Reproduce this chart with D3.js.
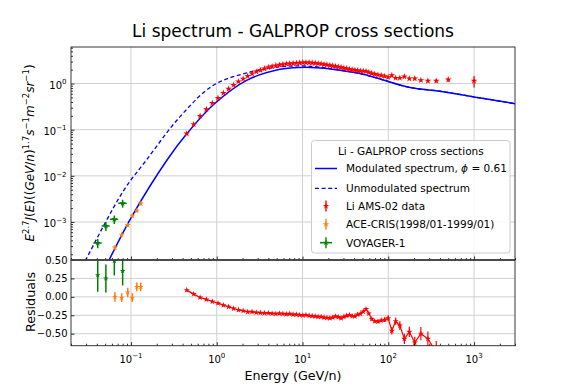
<!DOCTYPE html>
<html>
<head>
<meta charset="utf-8">
<script src="https://cdn.jsdelivr.net/npm/d3@7"></script>
<style>
  body { margin: 0; background: #fff; }
  svg { font-family: "DejaVu Sans", sans-serif; }
</style>
</head>
<body>
<div id="chart"></div>
<script>
// ---- data ----
// AMS-02 Li (GeV/n)
const amsE = [0.447, 0.538, 0.640, 0.757, 0.888, 1.034, 1.196, 1.375, 1.573, 1.792,
  2.033, 2.295, 2.581, 2.893, 3.230, 3.596, 3.993, 4.420, 4.888, 5.383,
  5.902, 6.472, 7.091, 7.762, 8.482, 9.253, 10.08, 10.97, 11.94, 12.97,
  14.06, 15.23, 16.48, 17.83, 19.28, 20.82, 22.47, 24.24, 26.14, 28.17,
  30.34, 32.68, 35.21, 37.90, 40.80, 43.92, 47.30, 51.04, 55.04, 59.29,
  64.03, 69.51, 75.75, 82.74, 90.72, 99.7, 109.9, 121.9, 136.3, 154.0,
  175.9, 203.5, 239.7, 289.6, 362.6, 500, 1000];
const amsFlux = [0.082, 0.130, 0.198, 0.276, 0.379, 0.486, 0.625, 0.764, 0.93, 1.11,
  1.26, 1.45, 1.64, 1.81, 1.96, 2.11, 2.24, 2.35, 2.45, 2.53,
  2.60, 2.66, 2.71, 2.75, 2.79, 2.82, 2.84, 2.85, 2.84, 2.81,
  2.77, 2.72, 2.66, 2.60, 2.54, 2.48, 2.42, 2.36, 2.30, 2.24,
  2.17, 2.11, 2.05, 2.00, 1.95, 1.91, 1.88, 1.87, 1.85, 1.74,
  1.66, 1.60, 1.55, 1.50, 1.44, 1.37, 1.51, 1.32, 1.32, 1.42,
  1.28, 1.28, 1.18, 1.14, 1.14, 1.22, 1.14];
const amsRelErr = [0.04, 0.035, 0.03, 0.03, 0.03, 0.03, 0.03, 0.03, 0.03, 0.03,
  0.025, 0.025, 0.025, 0.025, 0.025, 0.025, 0.025, 0.025, 0.025, 0.025,
  0.02, 0.02, 0.02, 0.02, 0.02, 0.02, 0.02, 0.02, 0.02, 0.02,
  0.02, 0.02, 0.02, 0.02, 0.02, 0.02, 0.02, 0.02, 0.02, 0.02,
  0.025, 0.025, 0.025, 0.025, 0.025, 0.025, 0.025, 0.025, 0.025, 0.025,
  0.03, 0.03, 0.03, 0.03, 0.035, 0.035, 0.04, 0.04, 0.045, 0.05,
  0.055, 0.06, 0.065, 0.07, 0.08, 0.1, 0.28];
const amsRes = [0.091, 0.037, -0.008, -0.035, -0.063, -0.086, -0.113, -0.136, -0.158, -0.177,
  -0.19, -0.204, -0.204, -0.212, -0.217, -0.22, -0.22, -0.225, -0.23, -0.225,
  -0.23, -0.235, -0.23, -0.24, -0.24, -0.245, -0.25, -0.245, -0.255, -0.26,
  -0.265, -0.27, -0.27, -0.28, -0.285, -0.29, -0.28, -0.265, -0.275, -0.29,
  -0.27, -0.255, -0.245, -0.26, -0.265, -0.24, -0.23, -0.2, -0.165, -0.225,
  -0.3, -0.33, -0.335, -0.32, -0.31, -0.29, -0.46, -0.33, -0.39, -0.57,
  -0.475, -0.62, -0.5, -0.57, -0.75];
const amsResErr = [0.01, 0.01, 0.01, 0.01, 0.01, 0.01, 0.01, 0.01, 0.01, 0.01,
  0.01, 0.01, 0.01, 0.01, 0.01, 0.01, 0.01, 0.01, 0.01, 0.01,
  0.01, 0.01, 0.01, 0.01, 0.01, 0.01, 0.01, 0.01, 0.01, 0.01,
  0.01, 0.01, 0.01, 0.01, 0.01, 0.01, 0.01, 0.01, 0.01, 0.01,
  0.012, 0.012, 0.012, 0.012, 0.012, 0.012, 0.012, 0.012, 0.012, 0.012,
  0.02, 0.02, 0.025, 0.025, 0.03, 0.04, 0.05, 0.05, 0.06, 0.07,
  0.07, 0.08, 0.09, 0.1, 0.15];

// ACE-CRIS
const aceE = [0.065, 0.078, 0.0917, 0.1036, 0.117, 0.130];
const aceFlux = [2.8e-4, 5.3e-4, 8.6e-4, 1.37e-3, 1.76e-3, 2.5e-3];
const aceErr = [0.3e-4, 0.5e-4, 0.8e-4, 1.2e-4, 1.5e-4, 2.2e-4];
const aceRes = [0.0, -0.01, 0.06, -0.01, 0.135, 0.135];
const aceResErr = [0.065, 0.06, 0.065, 0.06, 0.06, 0.06];

// VOYAGER-1
const voyE = [0.041, 0.051, 0.064, 0.080];
const voyEErr = [0.0045, 0.0055, 0.007, 0.009];
const voyFlux = [3.5e-4, 8.2e-4, 1.14e-3, 2.54e-3];
const voyErr = [0.8e-4, 1.8e-4, 2.4e-4, 5e-4];
const voyRes = [0.295, 0.25, 0.49, 0.353];
const voyResErr = [0.225, 0.19, 0.2, 0.2];

// GALPROP model curves
const modE = [0.04, 0.055, 0.1036, 0.261, 0.447, 0.912, 2.23, 5.46, 9.3, 16, 27.3, 46.7,
  77, 140, 200, 400, 1200, 3000];
const modulated = [4.3e-5, 1.44e-4, 1.37e-3, 0.0215, 0.0813, 0.347, 1.175, 2.04, 2.24, 2.18, 1.95, 1.65,
  1.285, 0.918, 0.794, 0.681, 0.486, 0.367];
const unmodE = [0.025, 0.0297, 0.0814, 0.15, 0.372, 0.912, 2.23, 5.46, 11, 20, 27.3, 46.7,
  77, 140, 200, 400, 1200, 3000];
const unmodulated = [8.1e-5, 1.51e-4, 4.68e-3, 0.0215, 0.19, 0.918, 1.70, 2.30, 2.40, 2.14, 1.96, 1.65,
  1.285, 0.918, 0.794, 0.681, 0.486, 0.367];

// ticks
const xTicks = [0.1, 1, 10, 100, 1000];
const yTicks = [1e-3, 1e-2, 1e-1, 1];
const resTicks = [-0.5, -0.25, 0, 0.25, 0.5];

// ---- layout ----
const W = 573, H = 388;
const pL = 71, pR = 515, pT = 47, pM = 260, pB = 345.7;
const RED = '#ff0000', BLUE = '#0000ff', ORANGE = '#ff7f0e', GREEN = '#008000';

const svg = d3.select('#chart').append('svg')
  .attr('width', W).attr('height', H);

const x = d3.scaleLog().domain([0.02, 3000]).range([pL, pR]);
const y = d3.scaleLog().domain([1.5e-4, 6.2]).range([pM, pT]);
const yr = d3.scaleLinear().domain([-0.663, 0.5]).range([pB, pM]);

const defs = svg.append('defs');
defs.append('clipPath').attr('id', 'clipTop').append('rect')
  .attr('x', pL).attr('y', pT).attr('width', pR - pL).attr('height', pM - pT);
defs.append('clipPath').attr('id', 'clipBot').append('rect')
  .attr('x', pL).attr('y', pM).attr('width', pR - pL).attr('height', pB - pM);

const fmtExp = (v) => String(Math.round(Math.log10(v))).replace('-', '\u2212');
const star = (size) => d3.symbol().type(d3.symbolStar).size(size);

// grid
const gridColor = '#d0d0d0';
svg.append('g').selectAll('line').data(xTicks).join('line')
  .attr('x1', d => x(d)).attr('x2', d => x(d)).attr('y1', pT).attr('y2', pB)
  .attr('stroke', gridColor).attr('stroke-width', 1);
svg.append('g').selectAll('line').data(yTicks).join('line')
  .attr('x1', pL).attr('x2', pR).attr('y1', d => y(d)).attr('y2', d => y(d))
  .attr('stroke', gridColor).attr('stroke-width', 1);
svg.append('g').selectAll('line').data(resTicks).join('line')
  .attr('x1', pL).attr('x2', pR).attr('y1', d => yr(d)).attr('y2', d => yr(d))
  .attr('stroke', gridColor).attr('stroke-width', 1);

// ---- upper panel ----
const up = svg.append('g').attr('clip-path', 'url(#clipTop)');

const curve = (es, vs) => d3.line().x((d, i) => x(es[i])).y(d => y(d))
  .curve(d3.curveCatmullRom.alpha(0.5))(vs);
up.append('path').attr('d', curve(modE, modulated))
  .attr('fill', 'none').attr('stroke', BLUE).attr('stroke-width', 1.5);
up.append('path').attr('d', curve(unmodE, unmodulated))
  .attr('fill', 'none').attr('stroke', BLUE).attr('stroke-width', 1.3)
  .attr('stroke-dasharray', '4,2.6');

// AMS points
up.append('g').selectAll('line').data(amsE).join('line')
  .attr('x1', d => x(d)).attr('x2', d => x(d))
  .attr('y1', (d, i) => y(amsFlux[i] * (1 - amsRelErr[i])))
  .attr('y2', (d, i) => y(amsFlux[i] * (1 + amsRelErr[i])))
  .attr('stroke', RED).attr('stroke-width', 1.2);
up.append('g').selectAll('path').data(amsE).join('path')
  .attr('d', star(14))
  .attr('transform', (d, i) => `translate(${x(d)},${y(amsFlux[i])})`)
  .attr('fill', RED);

// ACE-CRIS
up.append('g').selectAll('line').data(aceE).join('line')
  .attr('x1', d => x(d)).attr('x2', d => x(d))
  .attr('y1', (d, i) => y(aceFlux[i] - aceErr[i]))
  .attr('y2', (d, i) => y(aceFlux[i] + aceErr[i]))
  .attr('stroke', ORANGE).attr('stroke-width', 1.3);
up.append('g').selectAll('path').data(aceE).join('path')
  .attr('d', star(12))
  .attr('transform', (d, i) => `translate(${x(d)},${y(aceFlux[i])})`)
  .attr('fill', ORANGE);

// VOYAGER
const voy = up.append('g').attr('stroke', GREEN).attr('stroke-width', 1.5);
voy.selectAll('.vx').data(voyE).join('line').attr('class', 'vx')
  .attr('x1', (d, i) => x(d - voyEErr[i])).attr('x2', (d, i) => x(d + voyEErr[i]))
  .attr('y1', (d, i) => y(voyFlux[i])).attr('y2', (d, i) => y(voyFlux[i]));
voy.selectAll('.vy').data(voyE).join('line').attr('class', 'vy')
  .attr('x1', d => x(d)).attr('x2', d => x(d))
  .attr('y1', (d, i) => y(voyFlux[i] - voyErr[i])).attr('y2', (d, i) => y(voyFlux[i] + voyErr[i]));
up.append('g').selectAll('path').data(voyE).join('path')
  .attr('d', star(12))
  .attr('transform', (d, i) => `translate(${x(d)},${y(voyFlux[i])})`)
  .attr('fill', GREEN);

// ---- lower panel (residuals) ----
const lo = svg.append('g').attr('clip-path', 'url(#clipBot)');

lo.append('g').selectAll('line').data(voyE).join('line')
  .attr('x1', d => x(d)).attr('x2', d => x(d))
  .attr('y1', (d, i) => yr(voyRes[i] - voyResErr[i])).attr('y2', (d, i) => yr(voyRes[i] + voyResErr[i]))
  .attr('stroke', GREEN).attr('stroke-width', 1.5);
lo.append('g').selectAll('path').data(voyE).join('path')
  .attr('d', star(10))
  .attr('transform', (d, i) => `translate(${x(d)},${yr(voyRes[i])})`)
  .attr('fill', GREEN);

lo.append('g').selectAll('line').data(aceE).join('line')
  .attr('x1', d => x(d)).attr('x2', d => x(d))
  .attr('y1', (d, i) => yr(aceRes[i] - aceResErr[i])).attr('y2', (d, i) => yr(aceRes[i] + aceResErr[i]))
  .attr('stroke', ORANGE).attr('stroke-width', 1.5);
lo.append('g').selectAll('path').data(aceE).join('path')
  .attr('d', star(10))
  .attr('transform', (d, i) => `translate(${x(d)},${yr(aceRes[i])})`)
  .attr('fill', ORANGE);

const resE = amsE.slice(0, amsRes.length);
lo.append('path')
  .attr('d', d3.line().x(d => x(d)).y((d, i) => yr(amsRes[i]))(resE))
  .attr('fill', 'none').attr('stroke', RED).attr('stroke-width', 1.2);
lo.append('g').selectAll('line').data(resE).join('line')
  .attr('x1', d => x(d)).attr('x2', d => x(d))
  .attr('y1', (d, i) => yr(amsRes[i] - amsResErr[i])).attr('y2', (d, i) => yr(amsRes[i] + amsResErr[i]))
  .attr('stroke', RED).attr('stroke-width', 1.2);
lo.append('g').selectAll('path').data(resE).join('path')
  .attr('d', star(12))
  .attr('transform', (d, i) => `translate(${x(d)},${yr(amsRes[i])})`)
  .attr('fill', RED);

// ---- axes (ticks pointing in) ----
const minorX = x.ticks().filter(t => Math.abs(Math.log10(t) - Math.round(Math.log10(t))) > 1e-6);
const minorY = y.ticks().filter(t => Math.abs(Math.log10(t) - Math.round(Math.log10(t))) > 1e-6);

const axisStyle = (g) => {
  g.select('.domain').remove();
  g.selectAll('line').attr('stroke', '#000').attr('stroke-width', 0.8);
};
[pM, pB].forEach(py => {
  svg.append('g').attr('transform', `translate(0,${py})`)
    .call(d3.axisBottom(x).tickValues(xTicks).tickSize(-3.5).tickFormat('')).call(axisStyle);
  svg.append('g').attr('transform', `translate(0,${py})`)
    .call(d3.axisBottom(x).tickValues(minorX).tickSize(-2).tickFormat('')).call(axisStyle);
});
svg.append('g').attr('transform', `translate(${pL},0)`)
  .call(d3.axisLeft(y).tickValues(yTicks).tickSize(-3.5).tickFormat('')).call(axisStyle);
svg.append('g').attr('transform', `translate(${pL},0)`)
  .call(d3.axisLeft(y).tickValues(minorY).tickSize(-2).tickFormat('')).call(axisStyle);
svg.append('g').attr('transform', `translate(${pL},0)`)
  .call(d3.axisLeft(yr).tickValues(resTicks).tickSize(-3.5).tickFormat('')).call(axisStyle);

// spines
svg.append('rect').attr('x', pL).attr('y', pT).attr('width', pR - pL).attr('height', pM - pT)
  .attr('fill', 'none').attr('stroke', '#222').attr('stroke-width', 0.9);
svg.append('rect').attr('x', pL).attr('y', pM).attr('width', pR - pL).attr('height', pB - pM)
  .attr('fill', 'none').attr('stroke', '#222').attr('stroke-width', 0.9);
svg.append('line').attr('x1', pL).attr('x2', pR).attr('y1', pM).attr('y2', pM)
  .attr('stroke', '#444').attr('stroke-width', 1.6);

// tick labels
const tickFont = 10;
xTicks.forEach(t => {
  const tx = svg.append('text').attr('x', x(t)).attr('y', 362.5)
    .attr('text-anchor', 'middle').attr('font-size', tickFont);
  tx.append('tspan').text('10');
  tx.append('tspan').attr('dy', -4.5).attr('font-size', 7).text(fmtExp(t));
});
yTicks.forEach(t => {
  const ty = svg.append('text').attr('x', 66.5).attr('y', y(t) + 5.2)
    .attr('text-anchor', 'end').attr('font-size', tickFont);
  ty.append('tspan').text('10');
  ty.append('tspan').attr('dy', -4.5).attr('font-size', 7).text(fmtExp(t));
});
svg.append('g').selectAll('text').data(resTicks).join('text')
  .attr('x', 67.5).attr('y', d => yr(d) + 3.6)
  .attr('text-anchor', 'end').attr('font-size', tickFont)
  .text(d => d3.format('.2f')(d).replace('-', '\u2212'));

// titles and labels
svg.append('text').attr('x', (pL + pR) / 2).attr('y', 37)
  .attr('text-anchor', 'middle').attr('font-size', 17)
  .text('Li spectrum - GALPROP cross sections');
svg.append('text').attr('x', (pL + pR) / 2).attr('y', 379.5)
  .attr('text-anchor', 'middle').attr('font-size', 12.7)
  .text('Energy (GeV/n)');
svg.append('text').attr('transform', 'translate(35,302) rotate(-90)')
  .attr('text-anchor', 'middle').attr('font-size', 12.7)
  .text('Residuals');

// E^{2.7}J(E)((GeV/n)^{1.7}s^{-1}m^{-2}sr^{-1})
const yLabelParts = [['E', 'i'], ['2.7', 's'], ['J', 'i'], ['(', 'n'], ['E', 'i'], [')((', 'n'],
  ['GeV', 'i'], ['/', 'n'], ['n', 'i'], [')', 'n'], ['1.7', 's'], ['s', 'i'], ['\u22121', 's'],
  ['m', 'i'], ['\u22122', 's'], ['sr', 'i'], ['\u22121', 's'], [')', 'n']];
const yl = svg.append('text').attr('transform', 'translate(33.5,153) rotate(-90)')
  .attr('text-anchor', 'middle').attr('font-size', 12);
let raised = false;
yLabelParts.forEach(([txt, kind]) => {
  const ts = yl.append('tspan').text(txt);
  if (kind === 's') {
    ts.attr('font-size', 8.5).attr('dy', raised ? 0 : -5);
    raised = true;
  } else {
    if (raised) ts.attr('dy', 5);
    raised = false;
    if (kind === 'i') ts.attr('font-style', 'italic');
  }
});

// ---- legend ----
const lg = svg.append('g');
lg.append('rect').attr('x', 311.5).attr('y', 140.5).attr('width', 198.5).attr('height', 112.5)
  .attr('rx', 3).attr('fill', '#fff').attr('fill-opacity', 0.85)
  .attr('stroke', '#cccccc').attr('stroke-width', 1);
lg.append('text').attr('x', 410.8).attr('y', 154.5).attr('text-anchor', 'middle')
  .attr('font-size', 10.5).text('Li - GALPROP cross sections');

const legendRows = [168.5, 188.3, 206, 224.3, 242.7];
const hx = 326;
lg.append('line').attr('x1', 315).attr('x2', 337).attr('y1', legendRows[0]).attr('y2', legendRows[0])
  .attr('stroke', BLUE).attr('stroke-width', 1.5);
lg.append('line').attr('x1', 315).attr('x2', 337).attr('y1', legendRows[1]).attr('y2', legendRows[1])
  .attr('stroke', BLUE).attr('stroke-width', 1.3).attr('stroke-dasharray', '4,2.6');
[[RED, legendRows[2]], [ORANGE, legendRows[3]], [GREEN, legendRows[4]]].forEach(([c, ry], k) => {
  lg.append('line').attr('x1', hx).attr('x2', hx).attr('y1', ry - 5.5).attr('y2', ry + 5.5)
    .attr('stroke', c).attr('stroke-width', 1.4);
  if (k === 2) {
    lg.append('line').attr('x1', hx - 6).attr('x2', hx + 6).attr('y1', ry).attr('y2', ry)
      .attr('stroke', c).attr('stroke-width', 1.5);
  }
  lg.append('path').attr('d', star(12)).attr('transform', `translate(${hx},${ry})`).attr('fill', c);
});

const legendTexts = ['Modulated spectrum, ', 'Unmodulated spectrum', 'Li AMS-02 data',
  'ACE-CRIS(1998/01-1999/01)', 'VOYAGER-1'];
legendTexts.forEach((t, i) => {
  const tx = lg.append('text').attr('x', 346).attr('y', legendRows[i] + 3.8).attr('font-size', 10.5);
  tx.append('tspan').text(t);
  if (i === 0) {
    tx.append('tspan').attr('font-style', 'italic').text('\u03d5');
    tx.append('tspan').text(' = 0.61');
  }
});
</script>
</body>
</html>
